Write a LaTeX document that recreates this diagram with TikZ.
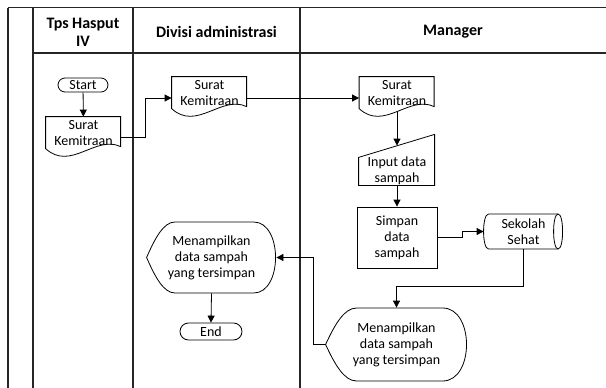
\documentclass[tikz,border=0pt]{standalone}
\usepackage{fontspec}
\setmainfont{Carlito}
\usetikzlibrary{arrows.meta,shapes.misc}
\tikzset{every path/.style={black,line width=0.8pt}, lane/.style={line width=1.1pt,black!85},
  hdr/.style={font=\fontsize{16}{18}\selectfont\bfseries, align=center},
  txt/.style={font=\fontsize{14}{16}\selectfont, align=center, inner sep=0pt},
  term/.style={txt, draw, rounded rectangle, minimum height=14pt, text height=9pt, text depth=0pt},
  doc/.style={txt, minimum width=75pt, minimum height=32pt},
  flow/.style={-{Triangle[length=7pt,width=7pt]}}}
\newcommand{\docshape}[1]{\draw[shift={(#1.north west)}] (0,0) -- (75,0) -- (75,30) .. controls (50,18) and (25,55) .. (0,32) -- cycle;}
\newcommand{\dispshape}[3]{%
  \pgfmathsetmacro{\da}{0.22*#2}\pgfmathsetmacro{\db}{0.83*#2}\pgfmathsetmacro{\dh}{#3/2}%
  \pgfmathsetmacro{\dc}{\db+1.33*(#2-\db)}%
  \draw[shift={(#1.west)}] (0,0) .. controls (0.3*\da,-0.55*\dh) and (0.6*\da,-\dh) .. (\da,-\dh) -- (\db,-\dh)
    .. controls (\dc,-\dh) and (\dc,\dh) .. (\db,\dh) -- (\da,\dh) .. controls (0.6*\da,\dh) and (0.3*\da,0.55*\dh) .. (0,0) -- cycle;}

\begin{document}
\begin{tikzpicture}[x=1pt,y=-1pt]
   \useasboundingbox (0,0) rectangle (606,388);
   \begin{scope}
    \draw[lane] (8,7.5) -- (606,7.5);
    \draw[lane] (33,53) -- (606,53);
    \draw[lane] (8,7.5) -- (8,388);
    \draw[lane] (33,7.5) -- (33,388);
    \draw[lane] (133,7.5) -- (133,388);
    \draw[lane] (300,7.5) -- (300,388);
    \node[hdr] (h1) at (83,32) {Tps Hasput\\IV};
    \node[hdr] (h2) at (216.5,32) {Divisi administrasi};
    \node[hdr] (h3) at (453,32) {Manager};
   \end{scope}
   \begin{scope}
    \node[term, minimum width=50pt] (start) at (83,85) {Start};
    \node[doc] (d1) at (83.5,133) {Surat\\Kemitraan};
    \docshape{d1}
    \node[doc] (d2) at (209.5,93) {Surat\\Kemitraan};
    \docshape{d2}
    \node[doc] (d3) at (397,93) {Surat\\Kemitraan};
    \docshape{d3}
    \node[txt, minimum width=76pt, minimum height=28pt] (inp) at (397,171) {Input data\\sampah};
    \draw[shift={(inp.south west)}] (0,0) -- (0,-28) -- (76,-51) -- (76,0) -- cycle;
    \node[txt, draw, minimum width=80pt, minimum height=61pt] (simpan) at (397,237.5) {Simpan\\data\\sampah};
    \node[txt, minimum width=79pt, minimum height=35pt] (sekolah) at (523.5,231.5) {Sekolah\\Sehat};
    \draw[shift={(sekolah.west)}] (5,-17.5) -- (74.5,-17.5) .. controls (80.5,-17.5) and (80.5,17.5) .. (74.5,17.5)
      -- (5,17.5) .. controls (-1.7,17.5) and (-1.7,-17.5) .. (5,-17.5);
    \draw[shift={(sekolah.west)}] (74.5,-17.5) .. controls (68.5,-17.5) and (68.5,17.5) .. (74.5,17.5);
    \node[txt, minimum width=141pt, minimum height=73pt] (tampil2) at (396.5,344.5) {Menampilkan\\data sampah\\yang tersimpan};
    \dispshape{tampil2}{141}{73}
    \node[txt, minimum width=129pt, minimum height=71pt] (tampil1) at (211.5,257.5) {Menampilkan\\data sampah\\yang tersimpan};
    \dispshape{tampil1}{129}{71}
    \node[term, minimum width=62pt, minimum height=17pt] (end) at (211,331.5) {End};
   \end{scope}
   \draw[flow] (start) -- (d1);
   \draw[flow] ([yshift=-4pt]d1.east) -- ++(24,0) |- ([yshift=-5pt]d2.west);
   \draw[flow] ([yshift=-5pt]d2.east) -- ([yshift=-5pt]d3.west);
   \draw[flow] ([yshift=-3pt]d3.south) -- ([yshift=11pt]inp.north);
   \draw[flow] (inp.south) -- (simpan.north);
   \draw[flow] (simpan.east) -- ++(25,0) |- (sekolah.west);
   \draw[flow] (sekolah.south) -- ++(0,37) -| (tampil2.north);
   \draw[flow] (tampil2.west) -- ++(-12,0) |- (tampil1.east);
   \draw[flow] (tampil1.south) -- (end.north);
\end{tikzpicture}
\end{document}
